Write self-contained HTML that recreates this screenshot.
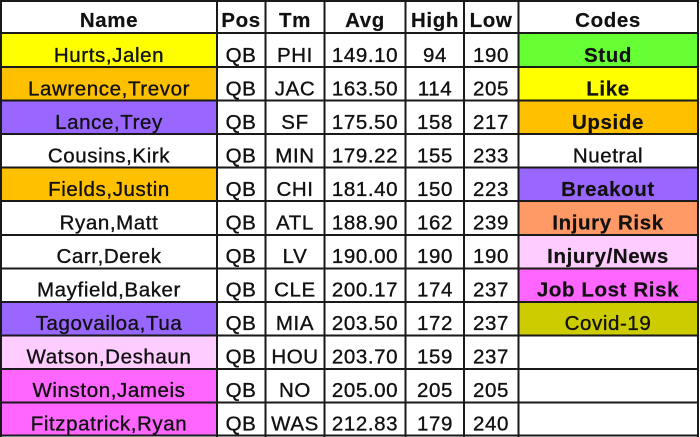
<!DOCTYPE html>
<html><head><meta charset="utf-8"><style>
html,body{margin:0;padding:0;background:#fff;}
svg{display:block;}
text{font-family:"Liberation Sans",Arial,sans-serif;font-size:20.5px;fill:#111;letter-spacing:0.6px;stroke:#111;stroke-width:0.35px;}
.b{font-weight:bold;stroke-width:0.2px;}
</style></head><body>
<svg width="700" height="437" viewBox="0 0 700 437" xmlns="http://www.w3.org/2000/svg">
<rect x="0" y="0" width="700" height="437" fill="#fff"/>
<!-- name col fills -->
<rect x="0" y="33" width="217" height="34" fill="#FFFF00"/>
<rect x="0" y="67" width="217" height="34" fill="#FFC000"/>
<rect x="0" y="100.5" width="217" height="34" fill="#9966FF"/>
<rect x="0" y="167.5" width="217" height="34" fill="#FFC000"/>
<rect x="0" y="302" width="217" height="34" fill="#9966FF"/>
<rect x="0" y="335.5" width="217" height="34" fill="#FFCCFF"/>
<rect x="0" y="369" width="217" height="34" fill="#FF66FF"/>
<rect x="0" y="402.5" width="217" height="34" fill="#FF66FF"/>
<!-- codes fills -->
<rect x="518" y="33" width="180" height="34" fill="#66FF33"/>
<rect x="518" y="67" width="180" height="34" fill="#FFFF00"/>
<rect x="518" y="100.5" width="180" height="34" fill="#FFC000"/>
<rect x="518" y="167.5" width="180" height="34" fill="#9966FF"/>
<rect x="518" y="201" width="180" height="34" fill="#FF9966"/>
<rect x="518" y="235" width="180" height="34" fill="#FFCCFF"/>
<rect x="518" y="268.5" width="180" height="34" fill="#FF66FF"/>
<rect x="518" y="302" width="180" height="34" fill="#CCCC00"/>
<!-- grid lines -->
<g stroke="#1a1a1a" stroke-width="2">
<line x1="0" y1="1" x2="699" y2="1"/>
<line x1="0" y1="33" x2="699" y2="33"/>
<line x1="0" y1="67" x2="699" y2="67"/>
<line x1="0" y1="100.5" x2="699" y2="100.5"/>
<line x1="0" y1="134" x2="699" y2="134"/>
<line x1="0" y1="167.5" x2="699" y2="167.5"/>
<line x1="0" y1="201" x2="699" y2="201"/>
<line x1="0" y1="235" x2="699" y2="235"/>
<line x1="0" y1="268.5" x2="699" y2="268.5"/>
<line x1="0" y1="302" x2="699" y2="302"/>
<line x1="0" y1="335.5" x2="699" y2="335.5"/>
<line x1="0" y1="369" x2="699" y2="369"/>
<line x1="0" y1="402.5" x2="699" y2="402.5"/>
<line x1="0" y1="435.5" x2="699" y2="435.5"/>
<line x1="1" y1="0" x2="1" y2="437"/>
<line x1="217" y1="0" x2="217" y2="437"/>
<line x1="265.5" y1="0" x2="265.5" y2="437"/>
<line x1="324.5" y1="0" x2="324.5" y2="437"/>
<line x1="405.5" y1="0" x2="405.5" y2="437"/>
<line x1="464" y1="0" x2="464" y2="437"/>
<line x1="518.5" y1="0" x2="518.5" y2="437"/>
<line x1="698" y1="0" x2="698" y2="437"/>
</g>
<g text-anchor="middle">
<!-- header -->
<text class="b" x="109" y="27">Name</text>
<text class="b" x="241" y="27">Pos</text>
<text class="b" x="295" y="27">Tm</text>
<text class="b" x="365" y="27">Avg</text>
<text class="b" x="435" y="27">High</text>
<text class="b" x="491" y="27">Low</text>
<text class="b" x="608" y="27">Codes</text>

<text x="109" y="62">Hurts,Jalen</text><text x="241" y="62">QB</text><text x="295" y="62">PHI</text><text x="365" y="62">149.10</text><text x="435" y="62">94</text><text x="491" y="62">190</text><text class="b" x="608" y="62">Stud</text>
<text x="109" y="95.5">Lawrence,Trevor</text><text x="241" y="95.5">QB</text><text x="295" y="95.5">JAC</text><text x="365" y="95.5">163.50</text><text x="435" y="95.5">114</text><text x="491" y="95.5">205</text><text class="b" x="608" y="95.5">Like</text>
<text x="109" y="129">Lance,Trey</text><text x="241" y="129">QB</text><text x="295" y="129">SF</text><text x="365" y="129">175.50</text><text x="435" y="129">158</text><text x="491" y="129">217</text><text class="b" x="608" y="129">Upside</text>
<text x="109" y="162.5">Cousins,Kirk</text><text x="241" y="162.5">QB</text><text x="295" y="162.5">MIN</text><text x="365" y="162.5">179.22</text><text x="435" y="162.5">155</text><text x="491" y="162.5">233</text><text x="608" y="162.5">Nuetral</text>
<text x="109" y="196">Fields,Justin</text><text x="241" y="196">QB</text><text x="295" y="196">CHI</text><text x="365" y="196">181.40</text><text x="435" y="196">150</text><text x="491" y="196">223</text><text class="b" x="608" y="196">Breakout</text>
<text x="109" y="229.5">Ryan,Matt</text><text x="241" y="229.5">QB</text><text x="295" y="229.5">ATL</text><text x="365" y="229.5">188.90</text><text x="435" y="229.5">162</text><text x="491" y="229.5">239</text><text class="b" x="608" y="229.5">Injury Risk</text>
<text x="109" y="263">Carr,Derek</text><text x="241" y="263">QB</text><text x="295" y="263">LV</text><text x="365" y="263">190.00</text><text x="435" y="263">190</text><text x="491" y="263">190</text><text class="b" x="608" y="263">Injury/News</text>
<text x="109" y="296.5">Mayfield,Baker</text><text x="241" y="296.5">QB</text><text x="295" y="296.5">CLE</text><text x="365" y="296.5">200.17</text><text x="435" y="296.5">174</text><text x="491" y="296.5">237</text><text class="b" x="608" y="296.5">Job Lost Risk</text>
<text x="109" y="330">Tagovailoa,Tua</text><text x="241" y="330">QB</text><text x="295" y="330">MIA</text><text x="365" y="330">203.50</text><text x="435" y="330">172</text><text x="491" y="330">237</text><text x="608" y="330">Covid-19</text>
<text x="109" y="363.5">Watson,Deshaun</text><text x="241" y="363.5">QB</text><text x="295" y="363.5">HOU</text><text x="365" y="363.5">203.70</text><text x="435" y="363.5">159</text><text x="491" y="363.5">237</text>
<text x="109" y="397">Winston,Jameis</text><text x="241" y="397">QB</text><text x="295" y="397">NO</text><text x="365" y="397">205.00</text><text x="435" y="397">205</text><text x="491" y="397">205</text>
<text x="109" y="430.5">Fitzpatrick,Ryan</text><text x="241" y="430.5">QB</text><text x="295" y="430.5">WAS</text><text x="365" y="430.5">212.83</text><text x="435" y="430.5">179</text><text x="491" y="430.5">240</text>
</g>
</svg>
</body></html>
